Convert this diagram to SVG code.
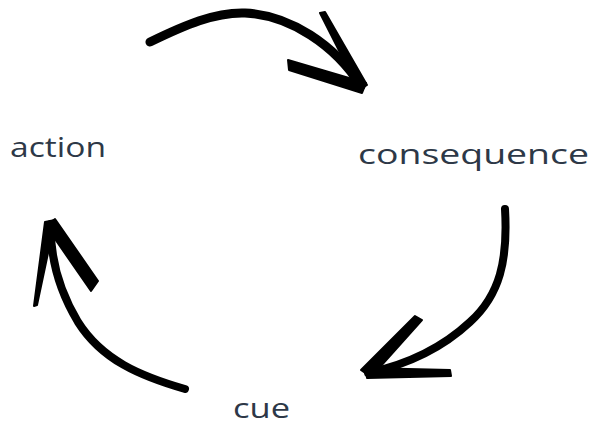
<svg xmlns="http://www.w3.org/2000/svg" width="595" height="426" viewBox="0 0 595 426">
<style>
.lbl{font-family:"Open Sans","Liberation Sans",sans-serif;font-size:28px;fill:#2d3847;}
.shaft{fill:none;stroke:#000;stroke-linecap:round;stroke-linejoin:round;}
.barb{fill:#000;stroke:#000;stroke-width:2;stroke-linejoin:round;}
</style>
<rect width="595" height="426" fill="#fff"/>
<g id="connectors">
<g id="arrow-top">
<path class="shaft" stroke-width="9" d="M150,42 C185,25 215,12 245,13 C290,15 335,45 361,86"/>
<polygon class="barb" points="320,13 325,12 367,85 359,90"/>
<polygon class="barb" points="288,60 289,70 362,93 366,83"/>
</g>
<g id="arrow-right">
<path class="shaft" stroke-width="8" d="M505,209 C508,260 500,295 470,322 C440,350 405,365 368,373"/>
<polygon class="barb" points="415,316 422,320 371,377 361,370"/>
<polygon class="barb" points="366,368 367,378 451,376 450,370"/>
</g>
<g id="arrow-left">
<path class="shaft" stroke-width="8" d="M185,389 C140,376 102,360 78,322 C60,292 50,258 51,224"/>
<polygon class="barb" points="45,222 55,220 37,305 34,306"/>
<polygon class="barb" points="46,226 55,219 98,281 91,291"/>
</g>
</g>
<g id="node-action"><text class="lbl" x="10" y="157" textLength="96" lengthAdjust="spacingAndGlyphs">action</text></g>
<g id="node-consequence"><text class="lbl" x="358" y="164" textLength="231" lengthAdjust="spacingAndGlyphs">consequence</text></g>
<g id="node-cue"><text class="lbl" x="233" y="418" textLength="57" lengthAdjust="spacingAndGlyphs">cue</text></g>
</svg>
